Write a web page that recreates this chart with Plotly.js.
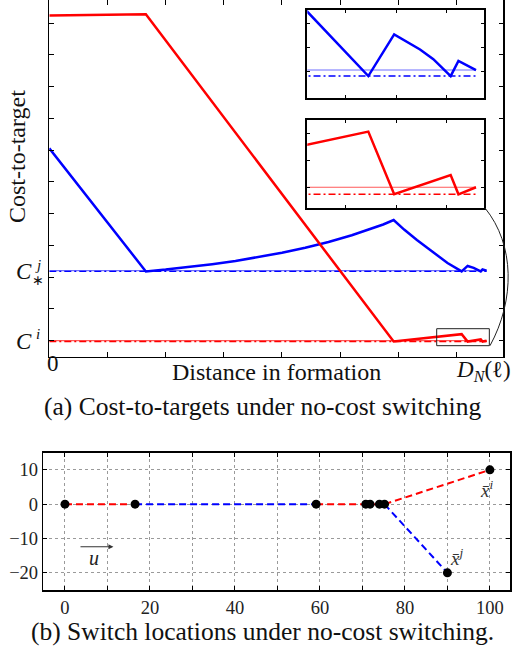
<!DOCTYPE html>
<html><head><meta charset="utf-8">
<script src="https://cdn.plot.ly/plotly-3.0.1.min.js"></script>
<style>html,body{margin:0;padding:0;background:#fff}</style>
</head><body><div id="chart" style="width:513px;height:651px"></div>
<script>
// ---------- (a) cost-to-target vs distance in formation (arbitrary units) ----------
const redX  = [0, 1.66, 5.92, 7.089, 7.192, 7.417, 7.448, 7.518];
const redY  = [10.24, 10.28, -0.026, 0.206, -0.026, 0.0456, -0.026, 0.0];
const blueX = [0, 1.66, 2.0, 2.4, 2.8, 3.2, 3.6, 4.0, 4.4, 4.8, 5.2, 5.5, 5.74, 5.92, 6.1, 6.32, 6.5, 6.66, 6.846, 7.089, 7.192, 7.295, 7.348, 7.417, 7.448, 7.518];
const blueY = [6.06, 2.182, 2.24, 2.32, 2.41, 2.51, 2.63, 2.77, 2.93, 3.11, 3.32, 3.50, 3.66, 3.80, 3.50, 3.17, 2.92, 2.70, 2.448, 2.182, 2.3545, 2.292, 2.252, 2.182, 2.245, 2.207];
const hLineX = [0, 7.518];
const CiMin = -0.026, CiEnd = 0.0;     // C^i (dash-dot) and final red cost (solid)
const CjMin = 2.182, CjEnd = 2.207;    // C^j_* (dash-dot) and final blue cost (solid)

// ---------- (b) switch locations ----------
const switchX = [0, 16.5, 59.1, 70.8, 71.8, 74.0, 75.2];
const switchY = [0, 0, 0, 0, 0, 0, 0];
const leader  = ['i', 'j', 'i', 'j', 'i', 'j'];   // agent leading each segment
const targetX = [100, 90];                        // x̄^i, x̄^j
const targetY = [10, -20];
const bYTicks = [-20, -10, 0, 10];

const W = 513, H = 651;
const px = x => x / W, py = y => 1 - y / H;
const FONT = 'Liberation Serif';
const RED = '#ff0000', BLUE = '#0000ff';

const traces = [];
function addTop(xa, ya) {
  const common = {xaxis: xa, yaxis: ya, mode: 'lines', hoverinfo: 'skip', showlegend: false};
  traces.push(Object.assign({x: hLineX, y: [CjEnd, CjEnd], line: {color: '#6f6fff', width: 1.2}}, common));
  traces.push(Object.assign({x: hLineX, y: [CjMin, CjMin], line: {color: BLUE, width: 1.4, dash: '7px,3px,2px,3px'}}, common));
  traces.push(Object.assign({x: hLineX, y: [CiEnd, CiEnd], line: {color: '#ff5a5a', width: 1.2}}, common));
  traces.push(Object.assign({x: hLineX, y: [CiMin, CiMin], line: {color: RED, width: 1.4, dash: '7px,3px,2px,3px'}}, common));
  traces.push(Object.assign({x: blueX, y: blueY, line: {color: BLUE, width: 2.5}}, common));
  traces.push(Object.assign({x: redX, y: redY, line: {color: RED, width: 2.5}}, common));
}
addTop('x', 'y');
addTop('x2', 'y2');
addTop('x3', 'y3');

// bottom: path segments by leader, then diverging to targets
const segs = {i: {x: [], y: []}, j: {x: [], y: []}};
for (let k = 0; k < leader.length; k++) {
  const s = segs[leader[k]];
  s.x.push(switchX[k], switchX[k + 1], null);
  s.y.push(switchY[k], switchY[k + 1], null);
}
const last = switchX.length - 1;
segs.i.x.push(switchX[last], targetX[0]); segs.i.y.push(switchY[last], targetY[0]);
segs.j.x.push(switchX[last], targetX[1]); segs.j.y.push(switchY[last], targetY[1]);
traces.push({x: segs.i.x, y: segs.i.y, xaxis: 'x4', yaxis: 'y4', mode: 'lines', line: {color: RED, width: 2, dash: '7px,4px'}, hoverinfo: 'skip', showlegend: false});
traces.push({x: segs.j.x, y: segs.j.y, xaxis: 'x4', yaxis: 'y4', mode: 'lines', line: {color: BLUE, width: 2, dash: '7px,4px'}, hoverinfo: 'skip', showlegend: false});
traces.push({x: switchX.concat(targetX), y: switchY.concat(targetY), xaxis: 'x4', yaxis: 'y4', mode: 'markers', marker: {color: '#000', size: 9}, hoverinfo: 'skip', showlegend: false});

const boxAxis = (extra) => Object.assign({
  showline: true, linecolor: '#000', linewidth: 1.5, mirror: 'ticks',
  ticks: 'inside', ticklen: 4.5, tickwidth: 1, tickcolor: '#000',
  showticklabels: false, showgrid: false, zeroline: false, fixedrange: true
}, extra);
const gridStyle = {showgrid: true, gridcolor: '#9a9a9a', griddash: 'dot', gridwidth: 1};

const layout = {
  width: W, height: H, margin: {l: 0, r: 0, t: 0, b: 0},
  paper_bgcolor: '#fff', plot_bgcolor: 'rgba(0,0,0,0)', showlegend: false,
  font: {family: FONT, color: '#111'},
  xaxis: boxAxis({domain: [px(49.3), px(503.3)], range: [0, 7.805], anchor: 'y', tick0: 0, dtick: 1}),
  yaxis: boxAxis({domain: [py(356.7), 1], range: [-0.504, 10.731], anchor: 'x', tick0: 0, dtick: 1}),
  xaxis2: boxAxis({domain: [px(307.3), px(484.3)], range: [6.846, 7.551], anchor: 'y2', tickvals: [7.0, 7.2, 7.4], linewidth: 2, ticklen: 3}),
  yaxis2: boxAxis({domain: [py(97.7), py(10)], range: [2.0926, 2.455], anchor: 'x2', tickvals: [2.2, 2.3, 2.4], linewidth: 2, ticklen: 3}),
  xaxis3: boxAxis({domain: [px(307.3), px(484.3)], range: [6.846, 7.551], anchor: 'y3', tickvals: [7.0, 7.2, 7.4], linewidth: 2, ticklen: 3}),
  yaxis3: boxAxis({domain: [py(207.7), py(120)], range: [-0.0756, 0.249], anchor: 'x3', tickvals: [0, 0.1, 0.2], linewidth: 2, ticklen: 3}),
  xaxis4: boxAxis(Object.assign({domain: [px(43.3), px(510.3)], range: [-5.1, 104.8], anchor: 'y4',
    tick0: 0, dtick: 20, showticklabels: true, ticklen: 4,
    tickfont: {family: FONT, size: 18.5, color: '#222'},
    minor: Object.assign({tick0: 0, dtick: 10, ticks: 'inside', ticklen: 4, tickwidth: 1, tickcolor: '#000'}, gridStyle)}, gridStyle)),
  yaxis4: boxAxis(Object.assign({domain: [py(590), py(452.7)], range: [-25, 15], anchor: 'x4',
    tickvals: bYTicks, showticklabels: true, ticklen: 4,
    tickfont: {family: FONT, size: 18.5, color: '#222'}}, gridStyle)),
  shapes: [
    {type: 'rect', xref: 'x', yref: 'y', x0: 6.660, x1: 7.565, y0: -0.157, y1: 0.378, line: {color: '#222', width: 1}},
    {type: 'path', xref: 'paper', yref: 'paper',
     path: `M ${px(485)},${py(208)} C ${px(515)},${py(245)} ${px(515)},${py(300)} ${px(490)},${py(345.7)}`,
     line: {color: '#222', width: 1}}
  ],
  annotations: []
};

function ann(text, x, y, size, opts) {
  layout.annotations.push(Object.assign({text: text, xref: 'paper', yref: 'paper', x: px(x), y: py(y),
    showarrow: false, xanchor: 'center', yanchor: 'middle', font: {family: FONT, size: size, color: '#111'}}, opts || {}));
}
ann('Cost-to-target', 17.5, 156.5, 24, {textangle: -90});
ann('Distance in formation', 276.3, 372, 24);
ann('0', 52.5, 364, 23);
ann('<i>D</i><sub><i>N</i></sub>(ℓ)', 483.3, 371, 23);
ann('<i>C</i>', 34, 341, 23, {xanchor: 'right'});
ann('<i>i</i>', 37.5, 334, 15);
ann('<i>C</i>', 34, 271, 23, {xanchor: 'right'});
ann('<i>j</i>', 38.3, 265, 15);
ann('∗', 37.8, 280, 14);
ann('(a) Cost-to-targets under no-cost switching', 262.5, 406, 25.5);
ann('(b) Switch locations under no-cost switching.', 262, 631, 25.5);

// bottom panel annotations in data coordinates
layout.annotations.push({xref: 'x4', yref: 'y4', axref: 'x4', ayref: 'y4', x: 11.4, y: -12.4, ax: 3.3, ay: -12.4,
  showarrow: true, arrowhead: 2, arrowsize: 1, arrowwidth: 1, arrowcolor: '#333', text: ''});
layout.annotations.push({xref: 'x4', yref: 'y4', x: 6.8, y: -15.8, text: '<i>u</i>', showarrow: false,
  font: {family: FONT, size: 20, color: '#222'}});
layout.annotations.push({xref: 'x4', yref: 'y4', x: 99.3, y: 4.4, text: '<i>x̄</i><sup><i>i</i></sup>', showarrow: false,
  font: {family: FONT, size: 19, color: '#333'}});
layout.annotations.push({xref: 'x4', yref: 'y4', x: 92.1, y: -15.3, text: '<i>x̄</i><sup><i>j</i></sup>', showarrow: false,
  font: {family: FONT, size: 19, color: '#333'}});

Plotly.newPlot('chart', traces, layout, {displayModeBar: false, staticPlot: true});
</script></body></html>
